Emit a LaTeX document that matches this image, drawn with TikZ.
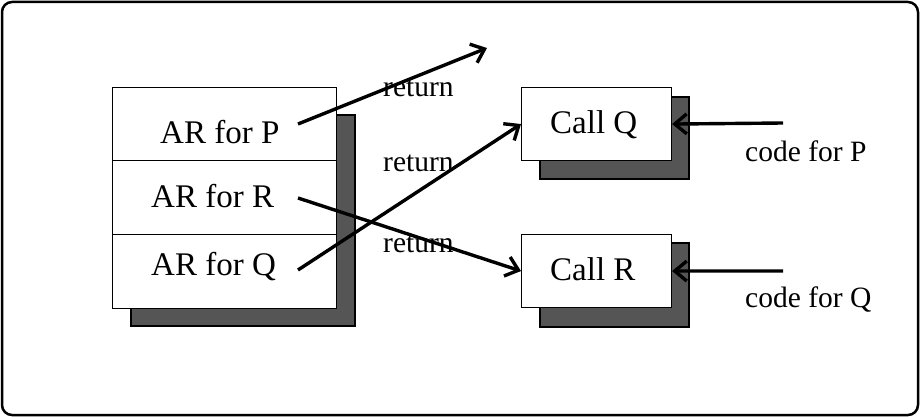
\documentclass[tikz,border=0pt]{standalone}
\usepackage{fontspec}
\setmainfont{Liberation Serif}
\usetikzlibrary{arrows.meta}
\definecolor{shadowgray}{RGB}{85,85,85}
\begin{document}
\begin{tikzpicture}[x=1pt,y=-1pt,
  cell/.style={draw,line width=1.1pt,fill=white,minimum width=224pt,inner sep=0pt,anchor=north west},
  callbox/.style={draw,line width=1.1pt,fill=white,minimum width=150pt,minimum height=73pt,inner sep=0pt,anchor=north west},
  shadowbox/.style={draw,line width=1.1pt,fill=shadowgray},
  big/.style={font=\fontsize{33}{37}\selectfont,inner sep=0pt,anchor=base west},
  small/.style={font=\fontsize{29.5}{33}\selectfont,inner sep=0pt,anchor=base west},
  conn/.style={line width=3.4pt,-{Straight Barb[length=12pt,width=20pt,line width=3.4pt]}}
]
\useasboundingbox (0,0) rectangle (920,417);
\draw[line width=2.5pt,rounded corners=10pt] (2,2) rectangle (918,415);

% left stack
\draw[shadowbox] (131,115) rectangle (355,326);
\node[cell,minimum height=73pt] (cellp) at (112,87) {};
\node[cell,minimum height=74pt] (cellr) at (112,160) {};
\node[cell,minimum height=74pt] (cellq) at (112,234) {};
\node[big] (tp) at (160,143) {AR for P};
\node[big] (tr) at (151,207) {AR for R};
\node[big] (tq) at (151,275) {AR for Q};

% call boxes
\draw[shadowbox] (540,97) rectangle (689,179);
\node[callbox] (callq) at (521,87) {};
\node[big] (tcq) at (550,133) {Call Q};
\draw[shadowbox] (540,243) rectangle (689,327);
\node[callbox] (callr) at (521,234) {};
\node[big] (tcr) at (550,280) {Call R};

% labels
\node[small] (ret1) at (383,97) {return};
\node[small] (ret2) at (383,171) {return};
\node[small] (ret3) at (383,252) {return};
\node[small] (codep) at (745,161) {code for P};
\node[small] (codeq) at (745,307) {code for Q};

% connectors
\coordinate (sP) at (298,124);
\coordinate (sR) at (298,198);
\coordinate (sQ) at (298,270);
\coordinate (pout) at (487,48);
\coordinate (srcp) at (783,123);
\coordinate (srcq) at (783,271);
\draw[conn] (sP) -- (pout);
\draw[conn] (sR) -- (callr.west);
\draw[conn] (sQ) -- (callq.west);
\draw[conn] (srcp) -- (callq.east);
\draw[conn] (srcq) -- (callr.east);
\end{tikzpicture}
\end{document}
